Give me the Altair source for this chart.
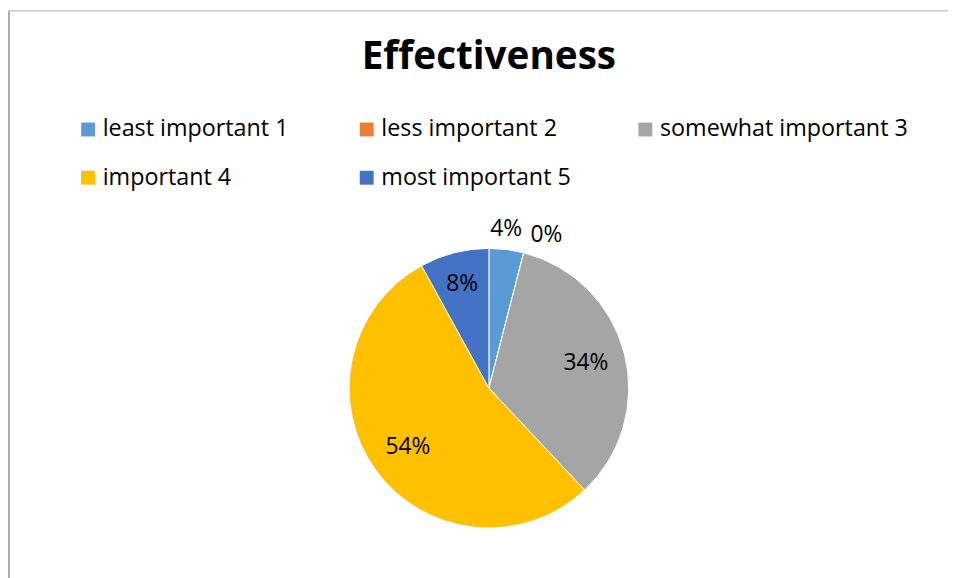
import altair as alt
import pandas as pd

categories = ["least important 1", "less important 2", "somewhat important 3",
              "important 4", "most important 5"]
percents = [4, 0, 34, 54, 8]
colors = ["#5B9BD5", "#ED7D31", "#A5A5A5", "#FFC000", "#4472C4"]
title_text = ["Effectiveness"]

df = pd.DataFrame({"category": categories, "pct": percents,
                   "idx": list(range(len(categories)))})
total = sum(percents)

FONT = "Open Sans"
CX, CY = 485, 301
R = 141

theta_scale = alt.Scale(domain=[0, total])
color_scale = alt.Scale(domain=categories, range=colors)

base = alt.Chart(df)

pie = base.mark_arc(outerRadius=R, stroke="white", strokeWidth=1).encode(
    theta=alt.Theta("pct:Q", stack=True, scale=theta_scale),
    color=alt.Color(
        "category:N", scale=color_scale, sort=categories,
        legend=alt.Legend(
            title=None, orient="none", legendX=69, legendY=28,
            direction="horizontal", columns=3, gridAlign="all",
            columnPadding=4, rowPadding=24,
            symbolType="square", symbolSize=196, symbolStrokeWidth=0,
            symbolOpacity=1,
            labelFontSize=23.5, labelFont=FONT, labelColor="#000000",
            labelOffset=3, labelLimit=400,
        ),
    ),
    order=alt.Order("idx:Q"),
    x=alt.value(CX),
    y=alt.value(CY),
)

lab = (
    base.transform_window(cum="sum(pct)", sort=[alt.SortField("idx")], frame=[None, 0])
    .transform_calculate(mid="datum.cum - datum.pct / 2", label="datum.pct + '%'")
)

def text_layer(src, radius, dx=0, dy=0):
    return src.mark_text(radius=radius, fontSize=23, font=FONT, color="#000000",
                         align="center", baseline="middle", dx=dx, dy=dy).encode(
        theta=alt.Theta("mid:Q", scale=theta_scale, stack=False),
        text="label:N",
        x=alt.value(CX),
        y=alt.value(CY),
    )

inside_big = text_layer(lab.transform_filter("datum.pct >= 10"), 101)
inside_small = text_layer(lab.transform_filter("datum.pct >= 5 && datum.pct < 10"), 108)
outside = text_layer(lab.transform_filter("datum.pct > 0 && datum.pct < 5"), 162, dx=-3)
zero = text_layer(lab.transform_filter("datum.pct == 0"), 165, dx=17, dy=5)

title = alt.Chart(pd.DataFrame({"t": title_text})).mark_text(
    font=FONT, fontSize=39, fontWeight="bold", color="#000000",
    align="center", baseline="alphabetic",
).encode(text="t:N", x=alt.value(CX), y=alt.value(-21))

frame_data = alt.Data(values=[{"k": 1}])
left_border = alt.Chart(frame_data).mark_rule(color="#ABABAB", strokeWidth=2).encode(
    x=alt.value(1), y=alt.value(-79), y2=alt.value(570))
top_border = alt.Chart(frame_data).mark_rule(color="#ABABAB", strokeWidth=1).encode(
    x=alt.value(0), x2=alt.value(948), y=alt.value(-79.5))

chart = alt.layer(pie, inside_big, inside_small, outside, zero, title,
                  left_border, top_border).properties(
    width=948, height=490,
    padding={"left": 0, "top": 80, "right": 0, "bottom": 0},
    autosize=alt.AutoSizeParams(type="none"),
).configure_view(stroke=None)

chart.save("out.html", embed_options={"renderer": "svg", "actions": False})
